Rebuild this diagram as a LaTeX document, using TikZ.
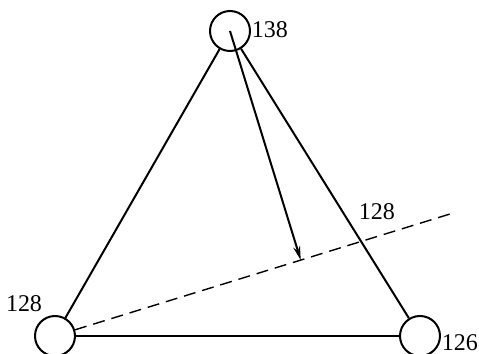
\documentclass[tikz,border=0pt]{standalone}
\usepackage{fontspec}
\setmainfont{Liberation Serif}
\usetikzlibrary{arrows.meta,positioning,calc}
\begin{document}
\begin{tikzpicture}[x=0.5pt, y=0.5pt,
    site/.style={circle, draw, line width=1pt, minimum size=20pt, inner sep=0pt},
    edge/.style={line width=1pt},
    lbl/.style={font=\fontsize{12}{14}\selectfont, inner sep=0pt}]
    \useasboundingbox (0,0) rectangle (479,354);

    % Sites
    \node[site] (stop) at (230,323) {};
    \node[site] (sleft) at (55,18) {};
    \node[site] (sright) at (420,18) {};

    % Edges of the triangle
    \draw[edge] (stop) -- (sleft);
    \draw[edge] (stop) -- (sright);
    \draw[edge] (sleft) -- (sright);

    % Dashed line and perpendicular arrow
    \coordinate (dend) at (450,140);
    \draw[dash pattern=on 6pt off 3.5pt, line width=0.7pt] (sleft) -- (dend);
    \coordinate (foot) at ($(sleft.center)!(stop.center)!(dend)$);
    \draw[edge, -{Stealth[length=7pt,width=3.5pt]}] (stop.center) -- (foot);

    % Labels
    \node[lbl] (ltop) at (270,324) {138};
    \node[lbl] (lleft) at (24,50.5) {128};
    \node[lbl] (lright) at (460,11.5) {126};
    \node[lbl] (ldash) at (377,142.5) {128};
\end{tikzpicture}
\end{document}
